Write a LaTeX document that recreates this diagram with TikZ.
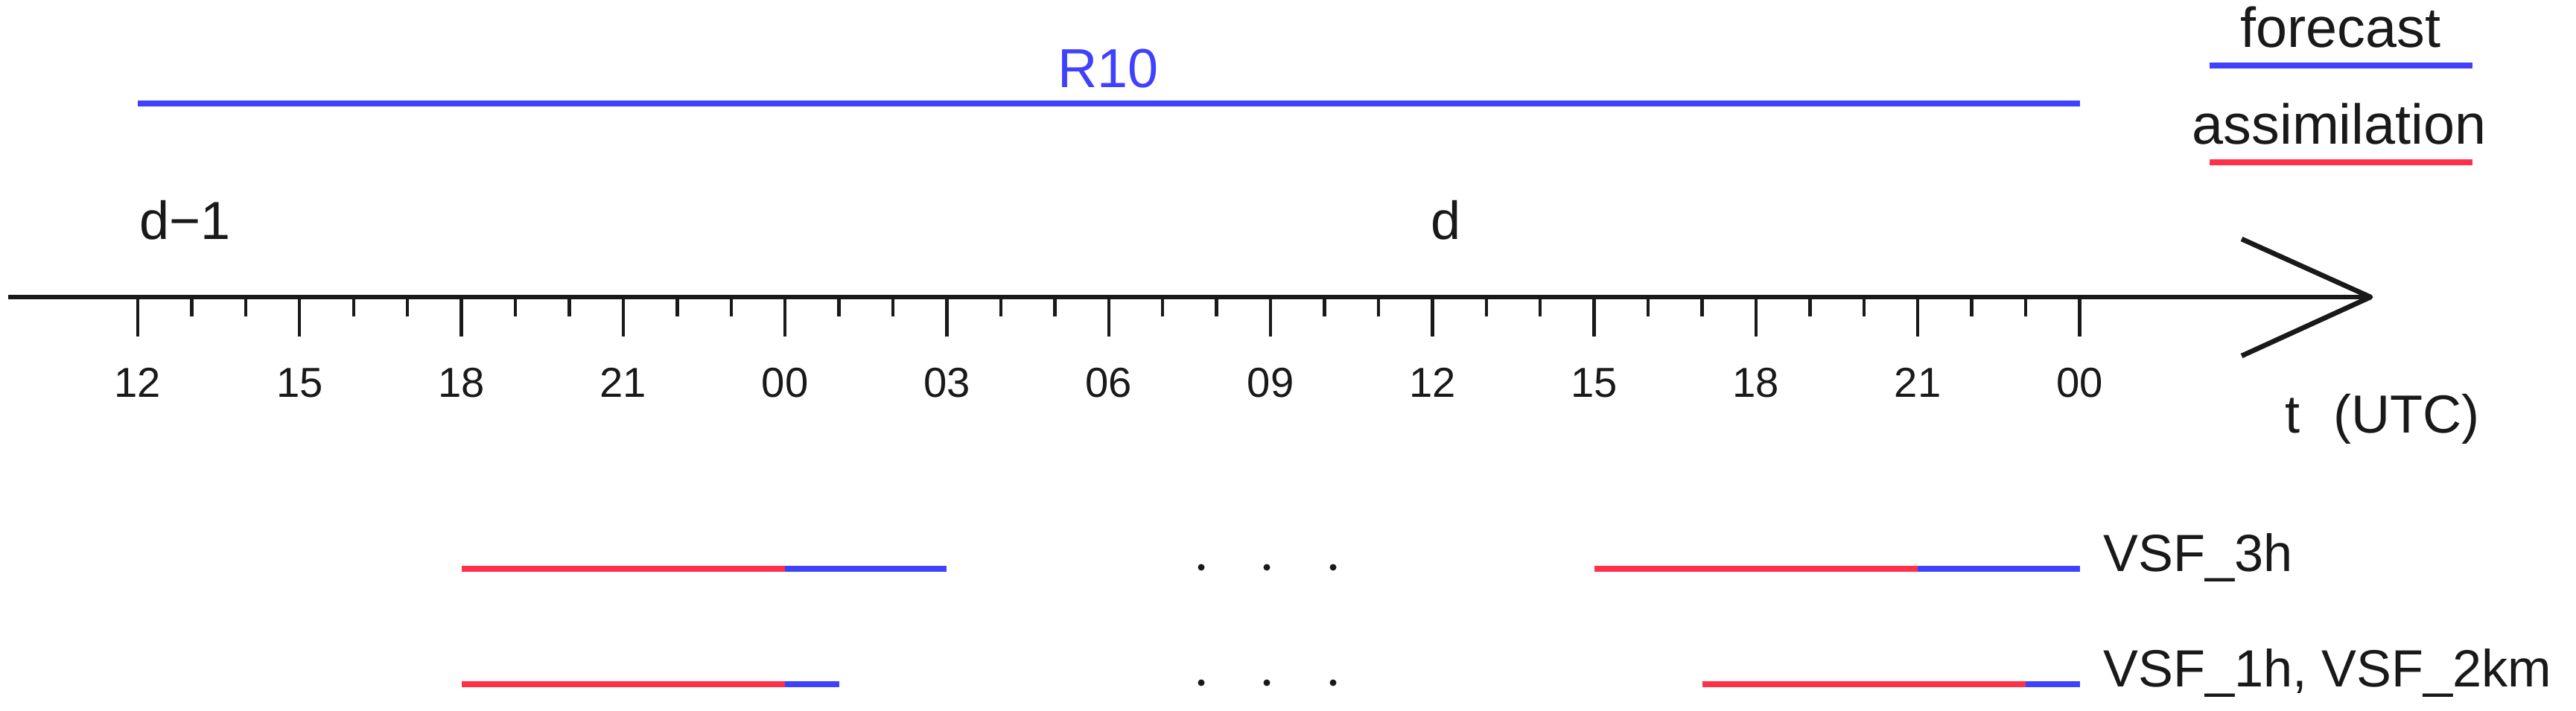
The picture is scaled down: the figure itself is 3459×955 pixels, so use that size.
\documentclass[tikz,border=0pt]{standalone}
\usepackage{fontspec}
\setmainfont{Liberation Sans}
\definecolor{fcblue}{RGB}{64,64,255}
\definecolor{asred}{RGB}{255,48,72}
\definecolor{ink}{RGB}{25,25,25}
\begin{document}
\begin{tikzpicture}[x=0.1mm,y=-0.1mm,
  axisline/.style={line width=1.9pt,ink,line join=round},
  tickline/.style={line width=1.25pt,ink},
  fcline/.style={line width=2.2pt,fcblue},
  asline/.style={line width=2.2pt,asred},
  ticklabel/.style={font=\fontsize{16}{16}\selectfont,text=ink,anchor=base,inner sep=0pt},
  daylabel/.style={font=\fontsize{20.5}{21}\selectfont,text=ink,anchor=base west,inner sep=0pt},
  legendlabel/.style={font=\fontsize{21.5}{22}\selectfont,text=ink,anchor=base,inner sep=0pt},
  runlabel/.style={font=\fontsize{20}{20}\selectfont,text=ink,anchor=base west,inner sep=0pt},
  dotmark/.style={fill=ink},
]
\useasboundingbox (0,0) rectangle (3459,955);

% hour coordinates on the axis (h0 = 12 UTC of d-1)
\foreach \h in {0,...,36} \coordinate (h\h) at ({185+72.43*\h},399);
\coordinate (labrow) at (0,533);
\coordinate (r10row) at (0,139);
\coordinate (row1) at (0,764);
\coordinate (row2) at (0,919);

% time axis with open arrow head
\coordinate (astart) at (11,399);
\coordinate (tip) at (3183,399);
\coordinate (barbA) at (3010,321);
\coordinate (barbB) at (3010,478);
\draw[axisline] (astart) -- (tip);
\draw[axisline] (barbA) -- (tip) -- (barbB);

% ticks
\foreach \h in {0,...,36} {
  \pgfmathsetmacro{\tl}{mod(\h,3)==0 ? 53 : 26}
  \draw[tickline] (h\h) -- ++(0,\tl);
}

% tick labels
\foreach \h/\l in {0/12,3/15,6/18,9/21,12/00,15/03,18/06,21/09,24/12,27/15,30/18,33/21,36/00}
  \node[ticklabel] (lab\h) at (h\h |- labrow) {\l};

% day labels
\node[daylabel] (dm1) at (187,322) {d−1};
\node[daylabel] (dd) at (1921,322) {d};
\node[font=\fontsize{20.5}{21}\selectfont,text=ink,anchor=base west,inner sep=0pt] (tutc) at (3068,581) {t\hspace{0.62em}(UTC)};

% R10
\draw[fcline] (h0 |- r10row) -- (h36 |- r10row);
\node[font=\fontsize{21}{21}\selectfont,text=fcblue,anchor=base,inner sep=0pt] (r10) at (1488,118) {R10};

% legend
\node[legendlabel] (lgf) at (3143,64) {forecast};
\coordinate (lgfa) at (2967,88);
\coordinate (lgfb) at (3320,88);
\draw[fcline] (lgfa) -- (lgfb);
\node[legendlabel] (lga) at (3141,194) {assimilation};
\coordinate (lgaa) at (2967,218);
\coordinate (lgab) at (3320,218);
\draw[asline] (lgaa) -- (lgab);

% VSF_3h row
\draw[asline] (h6 |- row1) -- (h12 |- row1);
\draw[fcline] (h12 |- row1) -- (h15 |- row1);
\draw[asline] (h27 |- row1) -- (h33 |- row1);
\draw[fcline] (h33 |- row1) -- (h36 |- row1);
\node[runlabel] (vsf3) at (2824,767) {VSF\_3h};

% VSF_1h / VSF_2km row
\draw[asline] (h6 |- row2) -- (h12 |- row2);
\draw[fcline] (h12 |- row2) -- (h13 |- row2);
\draw[asline] (h29 |- row2) -- (h35 |- row2);
\draw[fcline] (h35 |- row2) -- (h36 |- row2);
\node[runlabel] (vsf1) at (2824,922) {VSF\_1h, VSF\_2km};

% ellipsis dots
\foreach \x in {1613,1701,1790} {
  \fill[dotmark] (\x,762) circle (0.45mm);
  \fill[dotmark] (\x,917) circle (0.45mm);
}
\end{tikzpicture}
\end{document}
